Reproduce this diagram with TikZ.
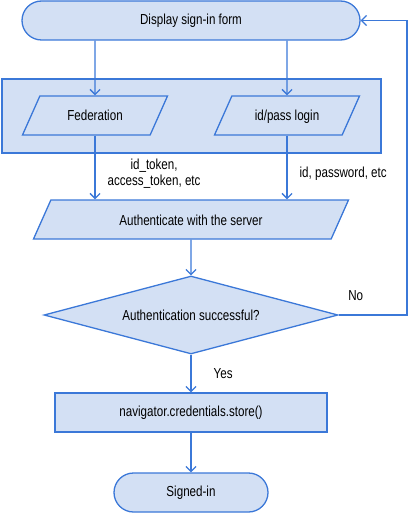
\documentclass[tikz,border=0pt]{standalone}
\usepackage{fontspec}
\setmainfont[FakeStretch=0.8]{Liberation Sans}
\usepackage{tikz}
\usetikzlibrary{arrows.meta, positioning, shapes.geometric}
\definecolor{kline}{HTML}{3B78D8}
\definecolor{kfill}{HTML}{D3E0F4}

\begin{document}
\begin{tikzpicture}[x=1pt, y=-1pt,
  every node/.style={font=\fontsize{14.5}{16}\selectfont, text=black},
  base/.style={draw=kline, fill=kfill, line width=1.3pt, inner sep=0pt},
  terminal/.style={base, rectangle, rounded corners=19.5pt, minimum height=39pt},
  io/.style={base, trapezium, trapezium left angle=66, trapezium right angle=114,
    trapezium stretches body, text height=12pt, text depth=1pt, inner ysep=13pt},
  process/.style={base, rectangle, minimum height=39pt},
  decision/.style={base, diamond, aspect=3.77, minimum width=294pt, minimum height=78pt},
  flow/.style={draw=kline, line width=1.3pt, -{Straight Barb[length=5pt, width=10pt]}},
  lbl/.style={inner sep=1pt, align=center}]
\useasboundingbox (0,0) rectangle (408,513);
\node[base, rectangle, minimum width=379pt, minimum height=74pt] (grp) at (191.5,116) {};
\node[terminal, minimum width=338pt] (form) at (191,20.5) {Display sign-in form};
\node[io, minimum width=145pt] (fed) at (95,115.5) {Federation};
\node[io, minimum width=145pt] (pass) at (287,115.5) {id/pass login};
\node[io, minimum width=315pt] (auth) at (191,219.5) {Authenticate with the server};
\node[decision] (chk) at (191,315) {Authentication successful?};
\node[process, minimum width=272pt] (store) at (191,412.5) {navigator.credentials.store()};
\node[terminal, minimum width=154pt] (done) at (191,492.5) {Signed-in};
\coordinate (ret) at (407,315);
\draw[flow] (form.south -| fed) -- (fed);
\draw[flow] (form.south -| pass) -- (pass);
\draw[flow] (fed.south) -- node[lbl, right=11pt, pos=0.6] {id\_token,\\access\_token, etc} (fed.south |- auth.north);
\draw[flow] (pass.south) -- node[lbl, right=11pt, pos=0.6] {id, password, etc} (pass.south |- auth.north);
\draw[flow] (auth) -- (chk);
\draw[flow] (chk) -- node[lbl, right=21pt] {Yes} (store);
\draw[flow] (store) -- (done);
\draw[flow] (chk.east) -- node[lbl, above=13pt, pos=0.25] {No} (ret) |- (form.east);
\end{tikzpicture}
\end{document}
